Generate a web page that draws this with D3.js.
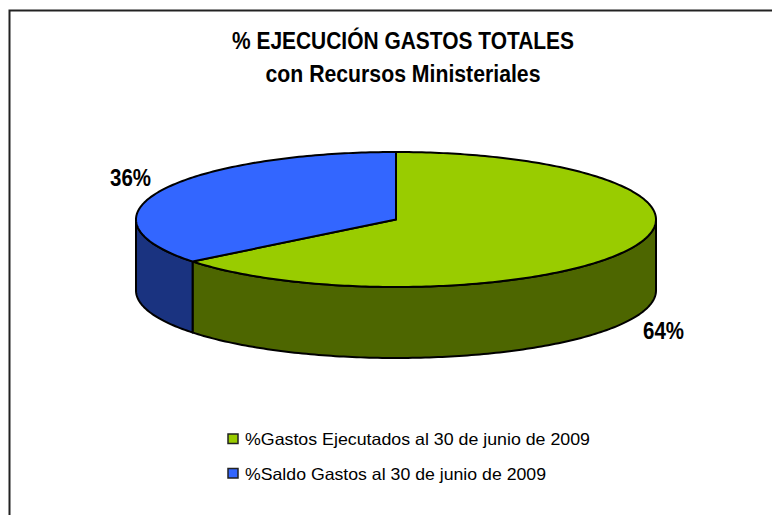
<!DOCTYPE html>
<html>
<head>
<meta charset="utf-8">
<script src="https://cdn.jsdelivr.net/npm/d3@7"></script>
<style>
html, body { margin: 0; padding: 0; background: #fff; }
svg { display: block; }
text { font-family: "Liberation Sans", Arial, sans-serif; fill: #000; }
</style>
</head>
<body>
<script>
const titleLines = ["% EJECUCIÓN GASTOS TOTALES", "con Recursos Ministeriales"];
const categories = ["%Gastos Ejecutados al 30 de junio de 2009", "%Saldo Gastos al 30 de junio de 2009"];
const values = [64.3, 35.7];
const labels = ["64%", "36%"];
const topColors = ["#99cc00", "#3366ff"];
const sideColors = ["#4d6600", "#1a3380"];

const width = 772, height = 515;
const cx = 396, cy = 219.5, rx = 260, ry = 67.5, depth = 71;

const svg = d3.select("body").append("svg")
    .attr("width", width)
    .attr("height", height);

// chart frame, only the top and left edges fall inside the picture
svg.append("path")
    .attr("d", "M9.5," + height + "V10.5H" + width)
    .attr("fill", "none")
    .attr("stroke", "#222")
    .attr("stroke-width", 2);

// title
svg.selectAll(".title")
    .data(titleLines)
    .enter().append("text")
    .attr("class", "title")
    .attr("x", 403)
    .attr("y", function (d, i) { return 49 + i * 32.5; })
    .attr("text-anchor", "middle")
    .attr("font-size", 23)
    .attr("font-weight", "bold")
    .attr("textLength", function (d, i) { return i === 0 ? 342 : 275; })
    .attr("lengthAdjust", "spacingAndGlyphs")
    .text(function (d) { return d; });

// slices start at 12 o'clock and go clockwise, flattened to an ellipse
const pie = d3.pie().sort(null).value(function (d) { return d; });
const slices = pie(values);

const x = d3.scaleLinear().domain([-1, 1]).range([cx - rx, cx + rx]);
const y = d3.scaleLinear().domain([-1, 1]).range([cy - ry, cy + ry]);
function px(a) { return x(Math.sin(a)); }
function py(a, dz) { return y(-Math.cos(a)) + (dz || 0); }

function rimPoints(a0, a1, dz) {
    const n = Math.max(2, Math.ceil(Math.abs(a1 - a0) * 60));
    return d3.range(n + 1).map(function (i) {
        const a = a0 + (a1 - a0) * i / n;
        return [px(a), py(a, dz)];
    });
}
const line = d3.line();

// side walls, only the front half of the rim (pi/2 to 3pi/2)
slices.forEach(function (s, i) {
    const a0 = Math.max(s.startAngle, Math.PI / 2);
    const a1 = Math.min(s.endAngle, Math.PI * 1.5);
    if (a1 <= a0) return;
    const pts = rimPoints(a0, a1, 0).concat(rimPoints(a1, a0, depth));
    svg.append("path")
        .attr("d", line(pts) + "Z")
        .attr("fill", sideColors[i])
        .attr("stroke", "#000")
        .attr("stroke-width", 2)
        .attr("stroke-linejoin", "round");
});

// top faces
slices.forEach(function (s, i) {
    const pts = [[cx, cy]].concat(rimPoints(s.startAngle, s.endAngle, 0));
    svg.append("path")
        .attr("d", line(pts) + "Z")
        .attr("fill", topColors[i])
        .attr("stroke", "#000")
        .attr("stroke-width", 2)
        .attr("stroke-linejoin", "round");
});

// data labels
const labelPos = [[643, 339], [110, 186]];
svg.selectAll(".pct")
    .data(labels)
    .enter().append("text")
    .attr("class", "pct")
    .attr("x", function (d, i) { return labelPos[i][0]; })
    .attr("y", function (d, i) { return labelPos[i][1]; })
    .attr("font-size", 24)
    .attr("font-weight", "bold")
    .attr("textLength", 41)
    .attr("lengthAdjust", "spacingAndGlyphs")
    .text(function (d) { return d; });

// legend
const legend = svg.selectAll(".legend")
    .data(categories)
    .enter().append("g")
    .attr("class", "legend")
    .attr("transform", function (d, i) { return "translate(228," + (434 + i * 34.5) + ")"; });
legend.append("rect")
    .attr("width", 10).attr("height", 9.5)
    .attr("fill", function (d, i) { return topColors[i]; })
    .attr("stroke", "#222")
    .attr("stroke-width", 1.5);
legend.append("text")
    .attr("x", 17)
    .attr("y", 11)
    .attr("font-size", 16.5)
    .attr("textLength", function (d, i) { return i === 0 ? 345 : 301; })
    .attr("lengthAdjust", "spacingAndGlyphs")
    .text(function (d) { return d; });
</script>
</body>
</html>
